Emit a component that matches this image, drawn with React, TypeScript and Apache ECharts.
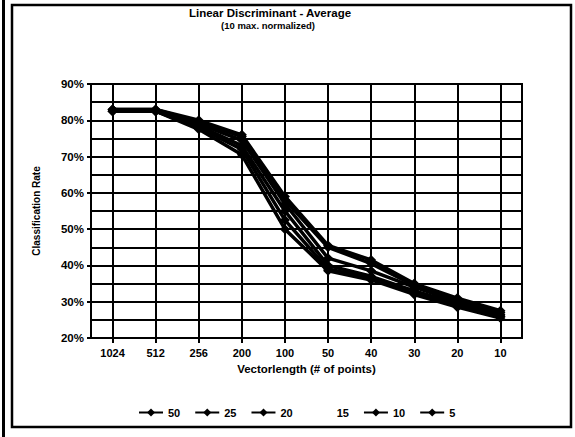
import React, { useEffect, useRef } from "react";
import * as echarts from "echarts";

const categories = ["1024", "512", "256", "200", "100", "50", "40", "30", "20", "10"];
const seriesNames = ["50", "25", "20", "15", "10", "5"];
const s50 = [83, 83, 80, 76, 59, 45.5, 41.5, 35, 31, 27.5];
const s25 = [83, 83, 79.5, 75.5, 58, 45, 40.5, 34.5, 30.5, 27];
const s20 = [83, 82.5, 79, 74.5, 57, 42, 38.5, 34, 30, 26.5];
const s15 = [82.5, 82.5, 78.5, 73, 55, 40, 37, 33, 29.5, 26];
const s10 = [82.5, 82.5, 78, 72, 52.5, 39, 36.5, 32.5, 29, 26];
const s5 = [82.5, 82.5, 77.5, 70.5, 50, 38.5, 36, 32, 28.5, 25.5];
const seriesValues = [s50, s25, s20, s15, s10, s5];

const FONT = "'Liberation Sans', Arial, sans-serif";

export default function App() {
  const ref = useRef<HTMLDivElement>(null);
  useEffect(() => {
    if (!ref.current) return;
    const chart = echarts.init(ref.current, undefined, { renderer: "svg" });
    chart.setOption({
      animation: false,
      backgroundColor: "#ffffff",
      textStyle: { fontFamily: FONT, color: "#000" },
      graphic: [
        { type: "line", shape: { x1: 3.5, y1: 0, x2: 3.5, y2: 437 }, style: { stroke: "#000", lineWidth: 3 } },
        { type: "rect", shape: { x: 12, y: 5, width: 559, height: 422 }, style: { fill: "none", stroke: "#000", lineWidth: 2.5 } },
        { type: "text", x: 270, y: 7, style: { text: "Linear Discriminant - Average", font: `bold 11.5px ${FONT}`, fill: "#000", textAlign: "center" } },
        { type: "text", x: 268, y: 20, style: { text: "(10 max. normalized)", font: `bold 9.5px ${FONT}`, fill: "#000", textAlign: "center" } },
      ],
      legend: {
        data: seriesNames.map((n) =>
          n === "15" ? { name: n, itemStyle: { opacity: 0 }, lineStyle: { opacity: 0 } } : { name: n }
        ),
        left: 133,
        top: 402,
        itemWidth: 24,
        itemHeight: 10,
        itemGap: 14,
        textStyle: { fontFamily: FONT, fontWeight: "bold", fontSize: 11, color: "#000" },
      },
      grid: {
        left: 91,
        top: 84,
        width: 431,
        height: 254,
        show: true,
        borderColor: "#000",
        borderWidth: 2,
        backgroundColor: "#fff",
      },
      xAxis: {
        type: "category",
        data: categories,
        boundaryGap: true,
        name: "Vectorlength (# of points)",
        nameLocation: "middle",
        nameGap: 25,
        nameTextStyle: { fontFamily: FONT, fontWeight: "bold", fontSize: 11.5, color: "#000" },
        axisLine: { show: true, lineStyle: { color: "#000", width: 2 } },
        axisTick: { show: true, alignWithLabel: true, length: 5, lineStyle: { color: "#000", width: 2 } },
        axisLabel: { margin: 9, fontFamily: FONT, fontWeight: "bold", fontSize: 11, color: "#000" },
        splitLine: { show: true, alignWithLabel: true, lineStyle: { color: "#000", width: 2 } },
      },
      yAxis: {
        type: "value",
        min: 20,
        max: 90,
        interval: 10,
        name: "Classification Rate",
        nameLocation: "middle",
        nameGap: 50,
        nameRotate: 90,
        nameTextStyle: { fontFamily: FONT, fontWeight: "bold", fontSize: 10, color: "#000" },
        axisLine: { show: true, lineStyle: { color: "#000", width: 2 } },
        axisTick: { show: true, length: 4, lineStyle: { color: "#000", width: 2 } },
        axisLabel: { formatter: "{value}%", margin: 7, fontFamily: FONT, fontWeight: "bold", fontSize: 11.5, color: "#000" },
        splitLine: { show: true, lineStyle: { color: "#000", width: 2 } },
        minorTick: { show: false, splitNumber: 2 },
        minorSplitLine: { show: true, lineStyle: { color: "#000", width: 2 } },
      },
      series: seriesNames.map((n, i) => ({
        name: n,
        type: "line",
        data: seriesValues[i],
        symbol: "diamond",
        symbolSize: 10,
        color: "#000",
        lineStyle: { color: "#000", width: 3.5 },
        itemStyle: { color: "#000" },
      })),
    });
    return () => chart.dispose();
  }, []);
  return <div ref={ref} style={{ width: 575, height: 437, position: "absolute", left: 0, top: 0 }} />;
}
